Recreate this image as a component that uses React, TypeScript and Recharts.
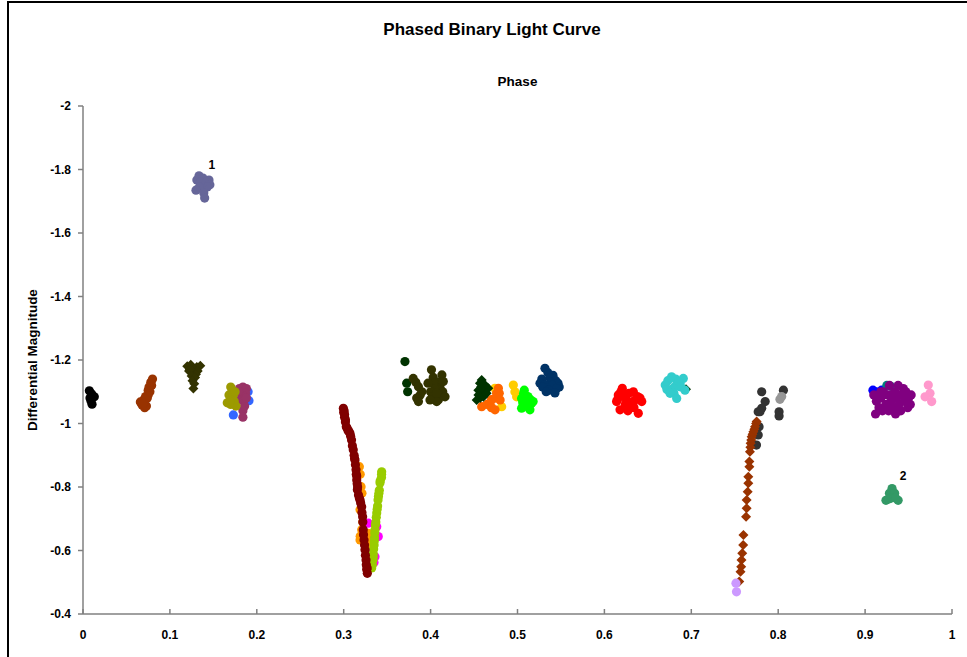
import React from 'react';
import { ScatterChart, Scatter, XAxis, YAxis, ReferenceDot } from 'recharts';

type Pt = [number, number];

// Axis ticks
const phaseTicks = [0, 0.1, 0.2, 0.3, 0.4, 0.5, 0.6, 0.7, 0.8, 0.9, 1];
const magTicks = [-2, -1.8, -1.6, -1.4, -1.2, -1, -0.8, -0.6, -0.4];

// Observation runs: [phase, differential magnitude]
const runBlack: Pt[] = [[0.0073, -1.103], [0.01, -1.093], [0.013, -1.084], [0.008, -1.08], [0.0092, -1.071], [0.0104, -1.061]];
const runRust: Pt[] = [[0.066, -1.068], [0.068, -1.058], [0.071, -1.05], [0.073, -1.055], [0.07, -1.075], [0.071, -1.07], [0.072, -1.085], [0.074, -1.08], [0.075, -1.09], [0.075, -1.105], [0.077, -1.1], [0.076, -1.115], [0.079, -1.12], [0.078, -1.13], [0.08, -1.14], [0.069, -1.062]];
const runOliveDiamond: Pt[] = [[0.12, -1.18], [0.124, -1.185], [0.131, -1.178], [0.135, -1.182], [0.122, -1.165], [0.127, -1.16], [0.132, -1.165], [0.123, -1.17], [0.13, -1.155], [0.125, -1.15], [0.129, -1.145], [0.126, -1.135], [0.128, -1.125], [0.127, -1.11]];
const runSlate: Pt[] = [[0.131, -1.767], [0.1335, -1.78], [0.138, -1.773], [0.145, -1.767], [0.136, -1.751], [0.135, -1.76], [0.142, -1.76], [0.146, -1.752], [0.143, -1.745], [0.137, -1.74], [0.134, -1.745], [0.13, -1.735], [0.139, -1.726], [0.14, -1.71]];
const runSky: Pt[] = [[0.173, -1.027], [0.191, -1.072], [0.178, -1.1], [0.183, -1.11], [0.186, -1.09], [0.175, -1.06], [0.19, -1.1]];
const runPlum: Pt[] = [[0.18, -1.11], [0.184, -1.115], [0.188, -1.11], [0.187, -1.095], [0.183, -1.09], [0.181, -1.075], [0.185, -1.07], [0.186, -1.055], [0.184, -1.04], [0.184, -1.02], [0.188, -1.08], [0.179, -1.1]];
const runOlive: Pt[] = [[0.17, -1.115], [0.172, -1.105], [0.168, -1.09], [0.171, -1.08], [0.166, -1.065], [0.17, -1.06], [0.174, -1.07], [0.176, -1.055], [0.173, -1.09], [0.175, -1.1], [0.169, -1.07]];
const runAmber: Pt[] = [[0.318, -0.864], [0.319, -0.84], [0.32, -0.801], [0.321, -0.78], [0.3188, -0.728], [0.322, -0.69], [0.3207, -0.665], [0.319, -0.645], [0.3188, -0.633], [0.3283, -0.654], [0.329, -0.63], [0.33, -0.612]];
const runMagenta: Pt[] = [[0.3283, -0.686], [0.338, -0.675], [0.3398, -0.644], [0.336, -0.58], [0.3349, -0.562], [0.33, -0.591]];
const runLime: Pt[] = [[0.3437, -0.848], [0.3436, -0.84], [0.3435, -0.83], [0.342, -0.82], [0.3418, -0.813], [0.341, -0.79], [0.3405, -0.78], [0.34, -0.77], [0.3395, -0.759], [0.339, -0.74], [0.3385, -0.73], [0.338, -0.718], [0.3375, -0.705], [0.337, -0.69], [0.3365, -0.68], [0.336, -0.665], [0.3358, -0.655], [0.3355, -0.64], [0.3352, -0.63], [0.335, -0.617], [0.3345, -0.605], [0.334, -0.59], [0.334, -0.58], [0.3337, -0.57], [0.333, -0.555], [0.3322, -0.545]];
const runMaroon: Pt[] = [[0.2996, -1.048], [0.3, -1.035], [0.3005, -1.04], [0.301, -1.028], [0.301, -1.02], [0.302, -1.012], [0.302, -1.005], [0.303, -0.99], [0.304, -0.985], [0.305, -0.978], [0.306, -0.975], [0.3072, -0.969], [0.308, -0.96], [0.309, -0.948], [0.31, -0.93], [0.311, -0.917], [0.312, -0.9], [0.3125, -0.89], [0.313, -0.885], [0.3135, -0.87], [0.3142, -0.854], [0.3145, -0.84], [0.315, -0.835], [0.315, -0.822], [0.3155, -0.81], [0.316, -0.8], [0.3157, -0.791], [0.317, -0.775], [0.318, -0.765], [0.3188, -0.759], [0.3195, -0.75], [0.3207, -0.738], [0.321, -0.72], [0.3218, -0.706], [0.322, -0.69], [0.3225, -0.665], [0.3228, -0.65], [0.3234, -0.633], [0.324, -0.617], [0.3245, -0.602], [0.325, -0.585], [0.3257, -0.57], [0.326, -0.555], [0.3265, -0.54], [0.327, -0.545], [0.3272, -0.528]];
const runForest: Pt[] = [[0.3705, -1.195], [0.3725, -1.127], [0.3736, -1.1]];
const runUmber: Pt[] = [[0.38, -1.142], [0.383, -1.13], [0.386, -1.116], [0.39, -1.1], [0.388, -1.09], [0.384, -1.08], [0.386, -1.069], [0.401, -1.169], [0.413, -1.153], [0.403, -1.145], [0.408, -1.13], [0.403, -1.127], [0.411, -1.111], [0.405, -1.11], [0.414, -1.1], [0.4, -1.1], [0.41, -1.09], [0.4166, -1.084], [0.402, -1.085], [0.409, -1.075], [0.407, -1.069], [0.3993, -1.074], [0.397, -1.127], [0.407, -1.095], [0.4146, -1.132]];
const runForestDiamond: Pt[] = [[0.4588, -1.137], [0.46, -1.125], [0.4626, -1.121], [0.4568, -1.127], [0.458, -1.115], [0.463, -1.11], [0.4664, -1.111], [0.4549, -1.105], [0.461, -1.1], [0.4645, -1.095], [0.455, -1.09], [0.4607, -1.084], [0.457, -1.08], [0.453, -1.074], [0.6939, -1.108]];
const runTangerine: Pt[] = [[0.4588, -1.053], [0.4683, -1.064], [0.465, -1.06], [0.47, -1.075], [0.475, -1.08], [0.47, -1.05], [0.479, -1.095], [0.476, -1.095], [0.48, -1.074], [0.4741, -1.043], [0.478, -1.111]];
const runGold: Pt[] = [[0.474, -1.111], [0.476, -1.1], [0.4818, -1.053], [0.4952, -1.121], [0.497, -1.1], [0.499, -1.084]];
const runGreen: Pt[] = [[0.5078, -1.105], [0.507, -1.095], [0.5086, -1.09], [0.512, -1.085], [0.5047, -1.079], [0.515, -1.075], [0.5105, -1.074], [0.518, -1.069], [0.506, -1.065], [0.5162, -1.064], [0.51, -1.06], [0.513, -1.05], [0.5047, -1.048], [0.5143, -1.043]];
const runNavy: Pt[] = [[0.5316, -1.174], [0.535, -1.16], [0.5408, -1.152], [0.5374, -1.143], [0.528, -1.14], [0.544, -1.135], [0.538, -1.13], [0.5259, -1.127], [0.5466, -1.127], [0.5316, -1.121], [0.54, -1.12], [0.529, -1.115], [0.548, -1.115], [0.545, -1.11], [0.536, -1.105], [0.533, -1.1], [0.5431, -1.096]];
const runRed: Pt[] = [[0.6206, -1.111], [0.619, -1.1], [0.6333, -1.1], [0.628, -1.095], [0.616, -1.09], [0.622, -1.085], [0.638, -1.085], [0.641, -1.08], [0.615, -1.075], [0.6256, -1.074], [0.635, -1.074], [0.614, -1.069], [0.643, -1.069], [0.632, -1.065], [0.624, -1.06], [0.6295, -1.053], [0.634, -1.05], [0.618, -1.043], [0.627, -1.04], [0.639, -1.032]];
const runCyan: Pt[] = [[0.6773, -1.147], [0.6908, -1.142], [0.682, -1.14], [0.673, -1.135], [0.687, -1.127], [0.685, -1.13], [0.67, -1.121], [0.6812, -1.116], [0.688, -1.115], [0.679, -1.11], [0.672, -1.107], [0.6927, -1.105], [0.68, -1.095], [0.6755, -1.095], [0.6832, -1.079]];
const runCharcoal: Pt[] = [[0.781, -1.1], [0.785, -1.069], [0.781, -1.048], [0.777, -1.037], [0.779, -1.037], [0.778, -0.99], [0.777, -0.964], [0.775, -0.932], [0.806, -1.105], [0.801, -1.037], [0.801, -1.024]];
const runGrey: Pt[] = [[0.802, -1.076], [0.804, -1.085]];
const runRustDiamond: Pt[] = [[0.7752, -1.006], [0.7745, -1.0], [0.7733, -0.99], [0.7725, -0.982], [0.7714, -0.974], [0.7705, -0.966], [0.7694, -0.958], [0.769, -0.948], [0.7683, -0.938], [0.768, -0.925], [0.7675, -0.911], [0.7668, -0.88], [0.7668, -0.864], [0.7656, -0.832], [0.7656, -0.812], [0.7649, -0.785], [0.7637, -0.759], [0.7637, -0.733], [0.763, -0.706], [0.76, -0.649], [0.7597, -0.617], [0.7586, -0.591], [0.7578, -0.57], [0.7574, -0.549], [0.7566, -0.533], [0.7552, -0.502]];
const runLavender: Pt[] = [[0.7514, -0.497], [0.752, -0.47]];
const runBlue: Pt[] = [[0.909, -1.105], [0.913, -1.1], [0.919, -1.105]];
const runTeal: Pt[] = [[0.925, -1.12], [0.929, -1.118]];
const runPurple: Pt[] = [[0.91, -1.09], [0.913, -1.07], [0.916, -1.05], [0.918, -1.08], [0.921, -1.1], [0.92, -1.04], [0.924, -1.06], [0.926, -1.09], [0.928, -1.12], [0.93, -1.07], [0.932, -1.05], [0.934, -1.1], [0.936, -1.08], [0.938, -1.12], [0.939, -1.06], [0.941, -1.04], [0.943, -1.09], [0.945, -1.07], [0.947, -1.1], [0.949, -1.05], [0.95, -1.08], [0.952, -1.06], [0.953, -1.09], [0.912, -1.03], [0.935, -1.03], [0.927, -1.04], [0.944, -1.11], [0.918, -1.1], [0.93, -1.09], [0.94, -1.09]];
const runPink: Pt[] = [[0.9727, -1.121], [0.9747, -1.095], [0.969, -1.084], [0.9766, -1.069]];
const runSeaGreen: Pt[] = [[0.931, -0.795], [0.928, -0.78], [0.934, -0.78], [0.924, -0.758], [0.938, -0.758], [0.93, -0.765], [0.927, -0.762], [0.935, -0.765]];

// Cluster annotations
const clusterLabels: { x: number; y: number; text: string }[] = [
  { x: 0.1484, y: -1.814, text: '1' },
  { x: 0.9436, y: -0.835, text: '2' },
];

type Marker = 'circle' | 'diamond';
const series: { name: string; color: string; marker: Marker; points: Pt[] }[] = [
  { name: 'run01', color: '#000000', marker: 'circle', points: runBlack },
  { name: 'run02', color: '#993300', marker: 'circle', points: runRust },
  { name: 'run03', color: '#333300', marker: 'diamond', points: runOliveDiamond },
  { name: 'run04', color: '#666699', marker: 'circle', points: runSlate },
  { name: 'run05', color: '#3366FF', marker: 'circle', points: runSky },
  { name: 'run06', color: '#993366', marker: 'circle', points: runPlum },
  { name: 'run07', color: '#9C9A00', marker: 'circle', points: runOlive },
  { name: 'run08', color: '#FF9900', marker: 'circle', points: runAmber },
  { name: 'run09', color: '#FF00FF', marker: 'circle', points: runMagenta },
  { name: 'run10', color: '#99CC00', marker: 'circle', points: runLime },
  { name: 'run11', color: '#800000', marker: 'circle', points: runMaroon },
  { name: 'run12', color: '#003300', marker: 'circle', points: runForest },
  { name: 'run13', color: '#333300', marker: 'circle', points: runUmber },
  { name: 'run14', color: '#FFCC00', marker: 'circle', points: runGold },
  { name: 'run15', color: '#FF6600', marker: 'circle', points: runTangerine },
  { name: 'run16', color: '#003300', marker: 'diamond', points: runForestDiamond },
  { name: 'run17', color: '#00FF00', marker: 'circle', points: runGreen },
  { name: 'run18', color: '#003366', marker: 'circle', points: runNavy },
  { name: 'run19', color: '#FF0000', marker: 'circle', points: runRed },
  { name: 'run20', color: '#33CCCC', marker: 'circle', points: runCyan },
  { name: 'run21', color: '#333333', marker: 'circle', points: runCharcoal },
  { name: 'run22', color: '#969696', marker: 'circle', points: runGrey },
  { name: 'run23', color: '#993300', marker: 'diamond', points: runRustDiamond },
  { name: 'run24', color: '#CC99FF', marker: 'circle', points: runLavender },
  { name: 'run25', color: '#0000FF', marker: 'circle', points: runBlue },
  { name: 'run26', color: '#008080', marker: 'circle', points: runTeal },
  { name: 'run27', color: '#800080', marker: 'circle', points: runPurple },
  { name: 'run28', color: '#FF99CC', marker: 'circle', points: runPink },
  { name: 'run29', color: '#339966', marker: 'circle', points: runSeaGreen },
];

const W = 967;
const H = 657;
const FONT = '"Liberation Sans", Arial, Helvetica, sans-serif';
const AXIS = '#808080';

const fmt = (v: number) => String(Math.round(v * 10) / 10);

const markerShape = (color: string, marker: Marker) => (props: any) => {
  const { cx, cy } = props;
  if (cx == null || cy == null) return <g />;
  if (marker === 'diamond') {
    const r = 5;
    return (
      <polygon
        points={`${cx},${cy - r} ${cx + r},${cy} ${cx},${cy + r} ${cx - r},${cy}`}
        fill={color}
      />
    );
  }
  return <circle cx={cx} cy={cy} r={4.6} fill={color} />;
};

const PhaseTick = (props: any) => {
  const { x, y, payload } = props;
  return (
    <g>
      <line x1={x} y1={y} x2={x} y2={y - 5} stroke={AXIS} strokeWidth={1.5} />
      <text
        x={x}
        y={y + 25}
        textAnchor="middle"
        fontFamily={FONT}
        fontWeight="bold"
        fontSize={12}
        fill="#000"
      >
        {fmt(payload.value)}
      </text>
    </g>
  );
};

export default function App() {
  return (
    <div style={{ position: 'absolute', left: 0, top: 0, width: W, height: H, background: '#fff', overflow: 'hidden' }}>
      <ScatterChart width={W} height={H} margin={{ top: 106, right: 15, bottom: 13, left: 23 }}>
        <XAxis
          type="number"
          dataKey="x"
          domain={[0, 1]}
          ticks={phaseTicks}
          interval={0}
          allowDataOverflow
          height={30}
          axisLine={{ stroke: AXIS, strokeWidth: 1.5 }}
          tickLine={false}
          tickSize={0}
          tickMargin={0}
          tick={(p: any) => <PhaseTick {...p} />}
        />
        <YAxis
          type="number"
          dataKey="y"
          domain={[-2, -0.4]}
          ticks={magTicks}
          interval={0}
          reversed
          allowDataOverflow
          width={60}
          axisLine={{ stroke: AXIS, strokeWidth: 1.5 }}
          tickLine={{ stroke: AXIS, strokeWidth: 1.5 }}
          tickSize={5}
          tickMargin={7}
          tickFormatter={fmt}
          tick={{ fontFamily: FONT, fontWeight: 'bold', fontSize: 12, fill: '#000' }}
        />
        {series.map((s) => (
          <Scatter
            key={s.name}
            name={s.name}
            data={s.points.map(([x, y]) => ({ x, y }))}
            fill={s.color}
            shape={markerShape(s.color, s.marker)}
            isAnimationActive={false}
          />
        ))}
        {clusterLabels.map((l) => (
          <ReferenceDot
            key={l.text}
            x={l.x}
            y={l.y}
            r={0}
            fill="none"
            stroke="none"
            label={{ value: l.text, position: 'center', fill: '#000', fontSize: 12, fontWeight: 'bold', fontFamily: FONT }}
          />
        ))}
      </ScatterChart>
      <svg
        width={W}
        height={H}
        style={{ position: 'absolute', left: 0, top: 0, pointerEvents: 'none' }}
      >
        <rect x={8} y={2} width={1200} height={1200} fill="none" stroke="#000" strokeWidth={2} />
        <text x={492} y={35} textAnchor="middle" fontFamily={FONT} fontWeight="bold" fontSize={17} fill="#000">
          Phased Binary Light Curve
        </text>
        <text x={517.5} y={86} textAnchor="middle" fontFamily={FONT} fontWeight="bold" fontSize={13.5} fill="#000">
          Phase
        </text>
        <text
          x={0}
          y={0}
          transform="translate(37 360) rotate(-90)"
          textAnchor="middle"
          fontFamily={FONT}
          fontWeight="bold"
          fontSize={13.5}
          fill="#000"
        >
          Differential Magnitude
        </text>
      </svg>
    </div>
  );
}
